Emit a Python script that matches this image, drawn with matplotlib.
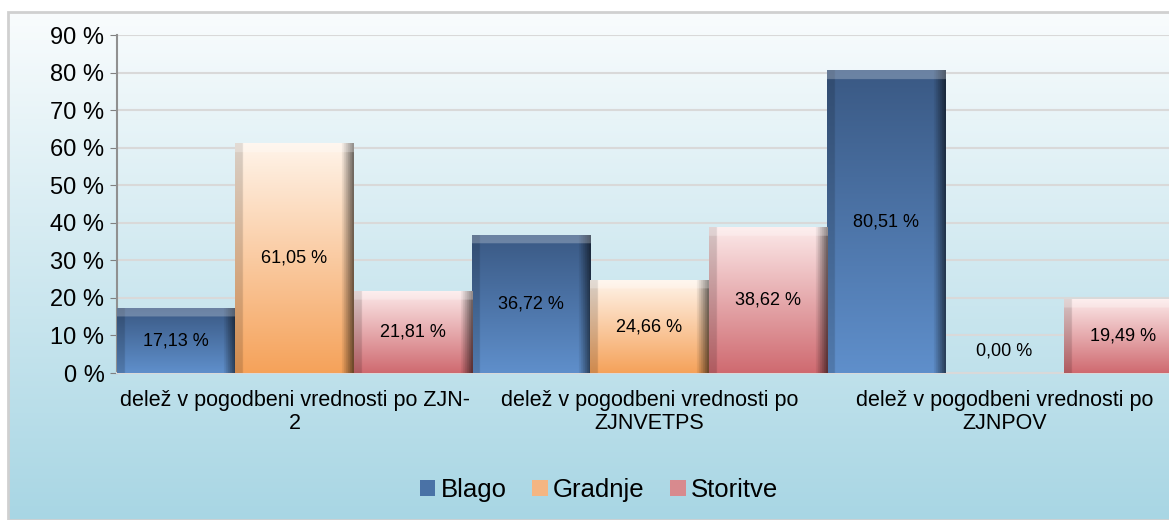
import numpy as np
import matplotlib
matplotlib.use("Agg")
import matplotlib.pyplot as plt
from matplotlib.colors import to_rgb
from matplotlib.patches import Rectangle

plt.rcParams['font.family'] = ['Liberation Sans', 'DejaVu Sans']

categories = ["delež v pogodbeni vrednosti po ZJN-\n2",
              "delež v pogodbeni vrednosti po\nZJNVETPS",
              "delež v pogodbeni vrednosti po\nZJNPOV"]
series = ["Blago", "Gradnje", "Storitve"]
blago = [17.13, 36.72, 80.51]
gradnje = [61.05, 24.66, 0.00]
storitve = [21.81, 38.62, 19.49]
yticks = [0, 10, 20, 30, 40, 50, 60, 70, 80, 90]

# top / bottom colours of the gradient fill, plus solid legend colour
styles = {
    "Blago": ("#3a5984", "#5f8fcb", "#4a72a6"),
    "Gradnje": ("#fff4ea", "#f5a25a", "#f4b582"),
    "Storitve": ("#fce9e9", "#cf6a70", "#d88a8e"),
}

fig = plt.figure(figsize=(11.69, 5.2), dpi=100)

# background gradient with border
bg = fig.add_axes([8 / 1169, 0, 1, 1 - 12 / 520], zorder=-5)
grad = np.linspace(0, 1, 256)[:, None]
top = np.array(to_rgb("#f9fcfd"))
bot = np.array(to_rgb("#a8d6e4"))
img = top[None, None, :] * (1 - grad[..., None]) + bot[None, None, :] * grad[..., None]
bg.imshow(img, aspect="auto", extent=[0, 1, 0, 1])
bg.set_xlim(0, 1)
bg.set_ylim(0, 1)
bg.axis("off")
bg.add_patch(Rectangle((0, 0), 1, 1, fill=False, edgecolor="#d0d0d0", lw=2,
                       transform=bg.transAxes, clip_on=False))

ax = fig.add_axes([117 / 1169, 1 - 373 / 520, 1065 / 1169, (373 - 35) / 520])
ax.patch.set_alpha(0)

x = np.arange(len(categories))
w = 1 / 3
data = [blago, gradnje, storitve]


def bar_image(height, c_top, c_bot, nrow=200, ncol=60):
    ct = np.array(to_rgb(c_top))
    cb = np.array(to_rgb(c_bot))
    yy = np.linspace(0, 1, nrow)[:, None, None]
    im = ct * (1 - yy) + cb * yy
    im = np.repeat(im, ncol, axis=1)
    xs = np.linspace(0, 1, ncol)
    shade = np.ones(ncol)
    shade[xs > 0.90] = 1 - (xs[xs > 0.90] - 0.90) / 0.10 * 0.55
    shade[xs < 0.06] = 0.85
    im = im * shade[None, :, None]
    # top bevel highlight
    ydata = np.linspace(height, 0, nrow)
    bevel = ydata > height - 2.2
    im[bevel] = im[bevel] * 0.75 + 0.25
    return np.clip(im, 0, 1)


for i, (name, vals) in enumerate(zip(series, data)):
    c_top, c_bot, c_leg = styles[name]
    bars = ax.bar(x - 0.5 + w * (i + 0.5), vals, width=w, color=c_leg,
                  label=name, edgecolor="none", zorder=2)
    for b, v in zip(bars, vals):
        if v > 0:
            b.set_alpha(0)
            ax.imshow(bar_image(v, c_top, c_bot), aspect="auto", zorder=3,
                      extent=[b.get_x(), b.get_x() + b.get_width(), 0, v])
        ax.text(b.get_x() + b.get_width() / 2, max(v / 2, 5.8),
                f"{v:.2f} %".replace(".", ","), ha="center", va="center",
                fontsize=13, color="black", zorder=4)

ax.set_xlim(-0.5, len(categories) - 0.5)
ax.set_ylim(0, 90)
ax.set_yticks(yticks)
ax.set_yticklabels([f"{t} %" for t in yticks], fontsize=17)
ax.set_xticks(x)
ax.set_xticklabels(categories, fontsize=15.5, linespacing=1.15)
ax.tick_params(axis="x", length=0, pad=12)
ax.tick_params(axis="y", length=5, color="#808080", pad=4)
ax.grid(axis="y", color="#d9d9d9", lw=1.5, zorder=1)
for s in ["top", "right"]:
    ax.spines[s].set_visible(False)
ax.spines["left"].set_color("#909090")
ax.spines["left"].set_linewidth(1.5)
ax.spines["bottom"].set_color("#d9d9d9")
ax.spines["bottom"].set_linewidth(1.5)

handles = [Rectangle((0, 0), 1, 1, facecolor=styles[n][2], edgecolor="none") for n in series]
fig.legend(handles, series, loc="center", bbox_to_anchor=(599 / 1169, 1 - 490 / 520),
           ncol=3, frameon=False, fontsize=18.5, handlelength=0.6, handleheight=0.6,
           handletextpad=0.2, columnspacing=1.0)

fig.savefig("out.png", dpi=100)
